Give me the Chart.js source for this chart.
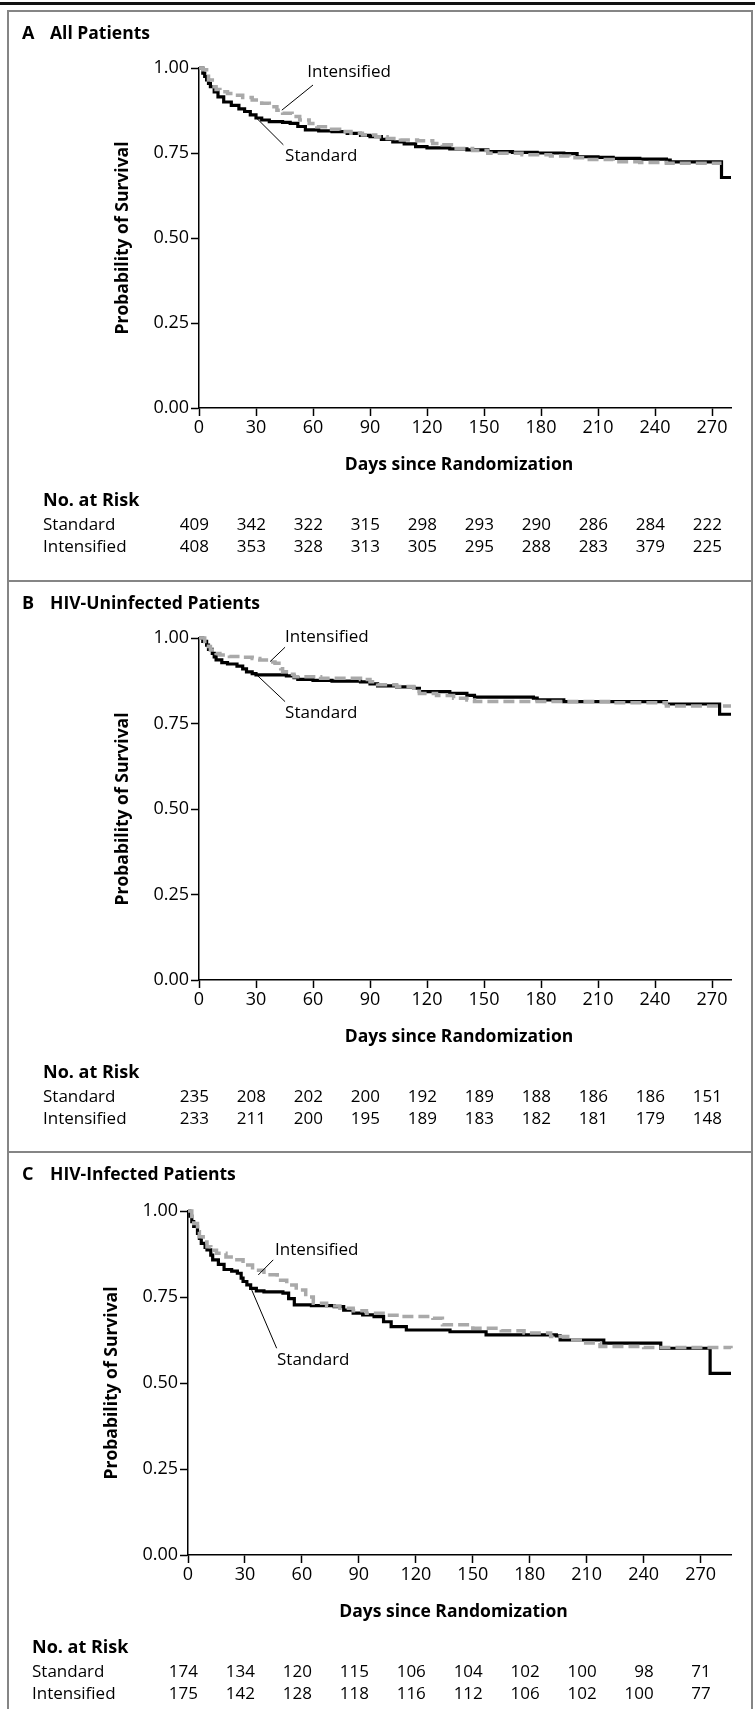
<!DOCTYPE html>
<html>
<head>
<meta charset="utf-8">
<script src="https://cdn.jsdelivr.net/npm/chart.js@4.4.1/dist/chart.umd.min.js"></script>
<style>
  body { margin: 0; background: #fff; width: 755px; height: 1709px; position: relative; overflow: hidden; }
  #topline { position: absolute; left: 0; top: 2px; width: 755px; height: 3px; background: #111; }
  .box { position: absolute; left: 7px; width: 746px; border: 2px solid #858585; border-bottom: none; box-sizing: border-box; }
  canvas { position: absolute; left: 0; }
</style>
</head>
<body>
<div id="topline"></div>
<div class="box" style="top:10px;height:572px"></div>
<div class="box" style="top:580px;height:573px"></div>
<div class="box" style="top:1151px;height:570px"></div>
<canvas id="panelA" width="755" height="568" style="top:12px"></canvas>
<canvas id="panelB" width="755" height="569" style="top:582px"></canvas>
<canvas id="panelC" width="755" height="556" style="top:1153px"></canvas>
<script>
const xTicks = [0, 30, 60, 90, 120, 150, 180, 210, 240, 270];
const yTicks = [0, 0.25, 0.5, 0.75, 1];

// A  All Patients
const allStdDays = [0, 2, 3, 4, 5, 6, 8, 10, 13, 17, 21, 24, 27, 30, 33, 37, 44, 48, 52, 56, 63, 70, 78, 85, 90, 96, 102, 108, 114, 120, 132, 141, 152, 165, 178, 192, 199, 210, 218, 232, 246, 248, 275, 280];
const allStdSurv = [1.0, 0.985, 0.975, 0.965, 0.955, 0.945, 0.93, 0.915, 0.90, 0.89, 0.88, 0.872, 0.862, 0.853, 0.847, 0.842, 0.840, 0.837, 0.828, 0.818, 0.815, 0.813, 0.808, 0.802, 0.798, 0.790, 0.783, 0.777, 0.769, 0.765, 0.762, 0.759, 0.754, 0.752, 0.750, 0.748, 0.739, 0.737, 0.734, 0.732, 0.729, 0.724, 0.678, 0.678];
const allIntDays = [0, 2, 4, 5, 7, 9, 11, 15, 18, 23, 28, 33, 37, 41, 44, 49, 53, 58, 62, 68, 74, 80, 86, 93, 99, 106, 115, 123, 128, 134, 144, 152, 170, 185, 195, 204, 218, 232, 246, 275];
const allIntSurv = [1.0, 0.995, 0.984, 0.965, 0.945, 0.937, 0.930, 0.925, 0.920, 0.913, 0.906, 0.896, 0.886, 0.876, 0.867, 0.857, 0.847, 0.837, 0.827, 0.820, 0.813, 0.808, 0.803, 0.798, 0.793, 0.788, 0.786, 0.778, 0.774, 0.763, 0.757, 0.749, 0.745, 0.741, 0.736, 0.731, 0.724, 0.722, 0.720, 0.720];
const allRiskStd = [409, 342, 322, 315, 298, 293, 290, 286, 284, 222];
const allRiskInt = [408, 353, 328, 313, 305, 295, 288, 283, 379, 225];

// B  HIV-Uninfected Patients
const uninfStdDays = [0, 2, 4, 5, 7, 8, 9, 12, 15, 20, 23, 25, 28, 30, 46, 50, 52, 60, 70, 85, 90, 94, 104, 113, 116, 132, 141, 145, 176, 178, 192, 246, 274, 280];
const uninfStdSurv = [1.0, 0.990, 0.979, 0.967, 0.955, 0.945, 0.936, 0.928, 0.924, 0.918, 0.910, 0.901, 0.896, 0.892, 0.889, 0.884, 0.879, 0.876, 0.874, 0.872, 0.866, 0.860, 0.857, 0.853, 0.843, 0.838, 0.832, 0.827, 0.824, 0.819, 0.814, 0.807, 0.777, 0.777];
const uninfIntDays = [0, 3, 5, 6, 9, 11, 16, 22, 28, 32, 37, 40, 43, 44, 47, 50, 64, 85, 90, 94, 104, 113, 116, 125, 134, 141, 145, 218, 246, 280];
const uninfIntSurv = [1.0, 0.990, 0.975, 0.965, 0.955, 0.950, 0.946, 0.944, 0.940, 0.936, 0.930, 0.926, 0.910, 0.901, 0.894, 0.887, 0.882, 0.879, 0.872, 0.863, 0.858, 0.853, 0.838, 0.832, 0.824, 0.819, 0.814, 0.811, 0.801, 0.801];
const uninfRiskStd = [235, 208, 202, 200, 192, 189, 188, 186, 186, 151];
const uninfRiskInt = [233, 211, 200, 195, 189, 183, 182, 181, 179, 148];

// C  HIV-Infected Patients
const infStdDays = [0, 1, 2, 3, 5, 6, 7, 9, 10, 12, 13, 16, 19, 23, 26, 28, 29, 31, 33, 36, 40, 50, 53, 56, 65, 77, 82, 87, 92, 98, 103, 107, 115, 138, 157, 194, 196, 219, 249, 275, 286];
const infStdSurv = [1.0, 0.985, 0.969, 0.955, 0.935, 0.920, 0.906, 0.894, 0.887, 0.872, 0.858, 0.845, 0.830, 0.825, 0.819, 0.805, 0.795, 0.785, 0.775, 0.768, 0.765, 0.761, 0.745, 0.727, 0.725, 0.722, 0.712, 0.703, 0.698, 0.693, 0.678, 0.664, 0.654, 0.649, 0.640, 0.637, 0.625, 0.616, 0.601, 0.528, 0.528];
const infIntDays = [0, 2, 3, 5, 6, 8, 10, 12, 15, 20, 24, 29, 34, 40, 47, 52, 57, 62, 66, 73, 80, 87, 94, 105, 112, 129, 134, 150, 165, 177, 191, 200, 208, 217, 240, 286];
const infIntSurv = [1.0, 0.975, 0.964, 0.940, 0.925, 0.910, 0.896, 0.886, 0.877, 0.866, 0.858, 0.843, 0.828, 0.815, 0.799, 0.785, 0.770, 0.750, 0.732, 0.724, 0.717, 0.710, 0.703, 0.697, 0.693, 0.688, 0.669, 0.659, 0.652, 0.645, 0.635, 0.625, 0.616, 0.606, 0.603, 0.601];
const infRiskStd = [174, 134, 120, 115, 106, 104, 102, 100, 98, 71];
const infRiskInt = [175, 142, 128, 118, 116, 112, 106, 102, 100, 77];

const FONT = '"Open Sans", "Noto Sans", sans-serif';

function pts(days, surv) {
  return days.map((d, i) => ({ x: d, y: surv[i] }));
}

function makePanel(id, p) {
  const canvas = document.getElementById(id);
  const H = canvas.height;

  const extras = {
    id: 'extras',
    afterDraw(chart) {
      const c = chart.ctx, xs = chart.scales.x, ys = chart.scales.y, a = chart.chartArea;
      c.save();
      c.fillStyle = '#000';
      c.textBaseline = 'middle';

      // panel heading
      c.textAlign = 'left';
      c.font = 'bold 18px ' + FONT;
      c.fillText(p.letter, 22, 22);
      c.font = 'bold 17.5px ' + FONT;
      c.fillText(p.title, 50, 22);

      // axis titles
      c.font = 'bold 17.5px ' + FONT;
      c.textAlign = 'center';
      c.fillText('Days since Randomization', (a.left + a.right) / 2 - 6, a.bottom + 57);
      c.save();
      c.translate(a.left - 76, (a.top + a.bottom) / 2);
      c.rotate(-Math.PI / 2);
      c.fillText('Probability of Survival', 0, 0);
      c.restore();

      // curve labels with leader lines
      c.font = '17px ' + FONT;
      c.textAlign = 'left';
      c.strokeStyle = '#000';
      c.lineWidth = 1;
      p.notes.forEach(n => {
        c.fillText(n.text, xs.getPixelForValue(n.tx), ys.getPixelForValue(n.ty));
        c.beginPath();
        c.moveTo(xs.getPixelForValue(n.l[0]), ys.getPixelForValue(n.l[1]));
        c.lineTo(xs.getPixelForValue(n.l[2]), ys.getPixelForValue(n.l[3]));
        c.stroke();
      });

      // number at risk
      const lx = a.left - 156;
      c.font = 'bold 18px ' + FONT;
      c.fillText('No. at Risk', lx, a.bottom + 93);
      c.font = '17px ' + FONT;
      c.fillText('Standard', lx, a.bottom + 117);
      c.fillText('Intensified', lx, a.bottom + 139);
      c.textAlign = 'right';
      xTicks.forEach((t, i) => {
        const px = xs.getPixelForValue(t) + 10;
        c.fillText(String(p.riskStd[i]), px, a.bottom + 117);
        c.fillText(String(p.riskInt[i]), px, a.bottom + 139);
      });
      c.restore();
    }
  };

  new Chart(canvas.getContext('2d'), {
    type: 'line',
    data: {
      datasets: [{
        label: 'Intensified',
        data: pts(p.intDays, p.intSurv),
        borderColor: '#a9a9a9',
        borderWidth: 3.5,
        borderDash: [11, 5],
        stepped: true,
        pointRadius: 0,
        fill: false,
        clip: false
      }, {
        label: 'Standard',
        data: pts(p.stdDays, p.stdSurv),
        borderColor: '#000',
        borderWidth: 3.2,
        stepped: true,
        pointRadius: 0,
        fill: false,
        clip: false
      }]
    },
    options: {
      responsive: false,
      animation: false,
      layout: { padding: { top: p.top, right: 755 - p.right, left: 0, bottom: 0 } },
      plugins: { legend: { display: false }, tooltip: { enabled: false } },
      scales: {
        x: {
          type: 'linear',
          min: 0,
          max: p.xMax,
          afterBuildTicks: s => { s.ticks = xTicks.map(v => ({ value: v })); },
          afterFit: s => { s.height = H - p.bottom; },
          ticks: { color: '#000', font: { family: FONT, size: 18 }, padding: 1, maxRotation: 0 },
          grid: { drawOnChartArea: false, drawTicks: true, tickLength: 8, tickWidth: 1.5, tickColor: '#000' },
          border: { color: '#000', width: 1.5 }
        },
        y: {
          min: 0,
          max: 1,
          afterBuildTicks: s => { s.ticks = yTicks.map(v => ({ value: v })); },
          afterFit: s => { s.width = p.left; },
          ticks: { color: '#000', font: { family: FONT, size: 18 }, padding: 2, callback: v => v.toFixed(2) },
          grid: { drawOnChartArea: false, drawTicks: true, tickLength: 8, tickWidth: 1.5, tickColor: '#000' },
          border: { color: '#000', width: 1.5 }
        }
      }
    },
    plugins: [extras]
  });
}

makePanel('panelA', {
  letter: 'A', title: 'All Patients',
  left: 199, right: 731, top: 56, bottom: 396, xMax: 280,
  stdDays: allStdDays, stdSurv: allStdSurv, intDays: allIntDays, intSurv: allIntSurv,
  riskStd: allRiskStd, riskInt: allRiskInt,
  notes: [
    { text: 'Intensified', tx: 57, ty: 0.989, l: [60, 0.95, 43.6, 0.876] },
    { text: 'Standard', tx: 45.3, ty: 0.741, l: [30.4, 0.852, 44.4, 0.774] }
  ]
});

makePanel('panelB', {
  letter: 'B', title: 'HIV-Uninfected Patients',
  left: 199, right: 731, top: 56, bottom: 398, xMax: 280,
  stdDays: uninfStdDays, stdSurv: uninfStdSurv, intDays: uninfIntDays, intSurv: uninfIntSurv,
  riskStd: uninfRiskStd, riskInt: uninfRiskInt,
  notes: [
    { text: 'Intensified', tx: 45.3, ty: 1.003, l: [45.3, 0.973, 37.4, 0.931] },
    { text: 'Standard', tx: 45.3, ty: 0.781, l: [30.4, 0.892, 45.3, 0.814] }
  ]
});

makePanel('panelC', {
  letter: 'C', title: 'HIV-Infected Patients',
  left: 188, right: 731, top: 58, bottom: 402, xMax: 286,
  stdDays: infStdDays, stdSurv: infStdSurv, intDays: infIntDays, intSurv: infIntSurv,
  riskStd: infRiskStd, riskInt: infRiskInt,
  notes: [
    { text: 'Intensified', tx: 45.8, ty: 0.887, l: [44.9, 0.858, 37, 0.814] },
    { text: 'Standard', tx: 46.9, ty: 0.567, l: [33.6, 0.770, 46.7, 0.601] }
  ]
});
</script>
</body>
</html>
